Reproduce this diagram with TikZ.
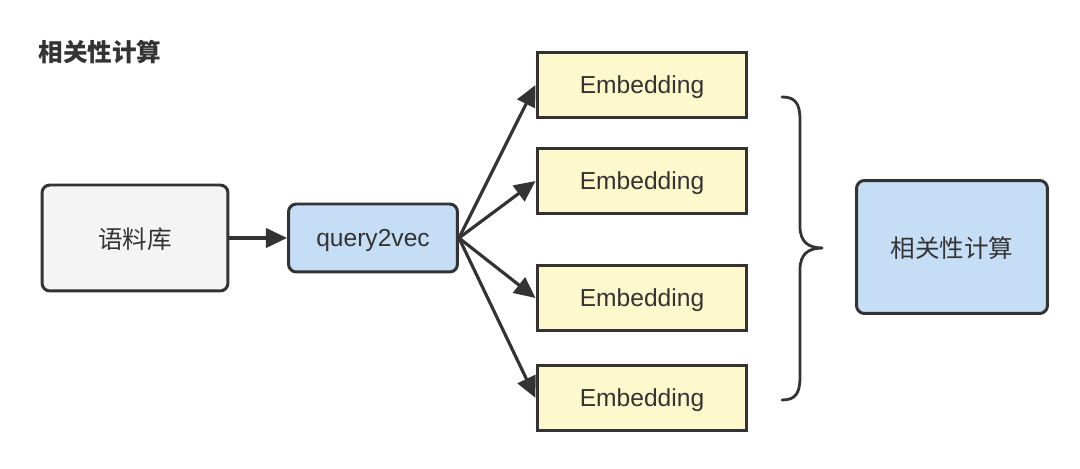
\documentclass[tikz,border=0pt]{standalone}
\usepackage{fontspec}
\usepackage{xcolor}
\usepackage{tikz}
\usetikzlibrary{arrows.meta}
\setmainfont{Liberation Sans}
\newfontfamily\cjk{Noto Sans CJK SC}

\definecolor{edgegray}{HTML}{333333}
\definecolor{corpusfill}{HTML}{F4F4F4}
\definecolor{vecblue}{HTML}{C5DDF5}
\definecolor{embyellow}{HTML}{FEF9CD}

\tikzset{
  box/.style={draw=edgegray, line width=1.7pt, text=edgegray, align=center,
    font=\fontsize{14}{16}\selectfont, text depth=0pt},
  roundbox/.style={box, rounded corners=4.5pt},
  embbox/.style={box, fill=embyellow, minimum width=4.2cm, minimum height=1.3cm},
  flow/.style={draw=edgegray, line width=1.8pt,
    -{Triangle[length=12pt, width=11pt]}}
}

\begin{document}
\begin{tikzpicture}[x=0.02cm, y=-0.02cm]
      \useasboundingbox (0,0) rectangle (1080,469);

      % Title
      \node[text=edgegray, font=\cjk\bfseries\fontsize{14}{16}\selectfont] (title) at (100,52) {相关性计算};

      % Corpus and encoder
      \node[roundbox, fill=corpusfill, minimum width=3.72cm, minimum height=2.12cm] (corpus) at (135,238) {\cjk 语料库};
      \node[roundbox, fill=vecblue, minimum width=3.38cm, minimum height=1.36cm] (q2v) at (373,238) {query2vec};

      % Embeddings
      \node[embbox] (emb1) at (642,85) {Embedding};
      \node[embbox] (emb2) at (642,181) {Embedding};
      \node[embbox] (emb3) at (642,298) {Embedding};
      \node[embbox] (emb4) at (642,398) {Embedding};

      % Result
      \node[roundbox, fill=vecblue, minimum width=3.82cm, minimum height=2.66cm] (score) at (952,247) {\cjk 相关性计算};

      % Arrows
      \draw[flow] (corpus.east) -- (q2v.west);
      \foreach \e in {emb1,emb2,emb3,emb4}
        \draw[flow] (q2v.east) -- (\e.west);

      % Brace
      \coordinate (bracetop) at (782,97);
      \coordinate (bracetip) at (823,248);
      \coordinate (bracebot) at (782,400);
      \draw[edgegray, line width=1.6pt, line cap=round]
        (bracetop) .. controls (795,97) and (800,103) .. (800,120)
        -- (800,226) .. controls (800,242) and (808,248) .. (bracetip)
        .. controls (808,248) and (800,254) .. (800,270)
        -- (800,377) .. controls (800,394) and (795,400) .. (bracebot);

\end{tikzpicture}
\end{document}
